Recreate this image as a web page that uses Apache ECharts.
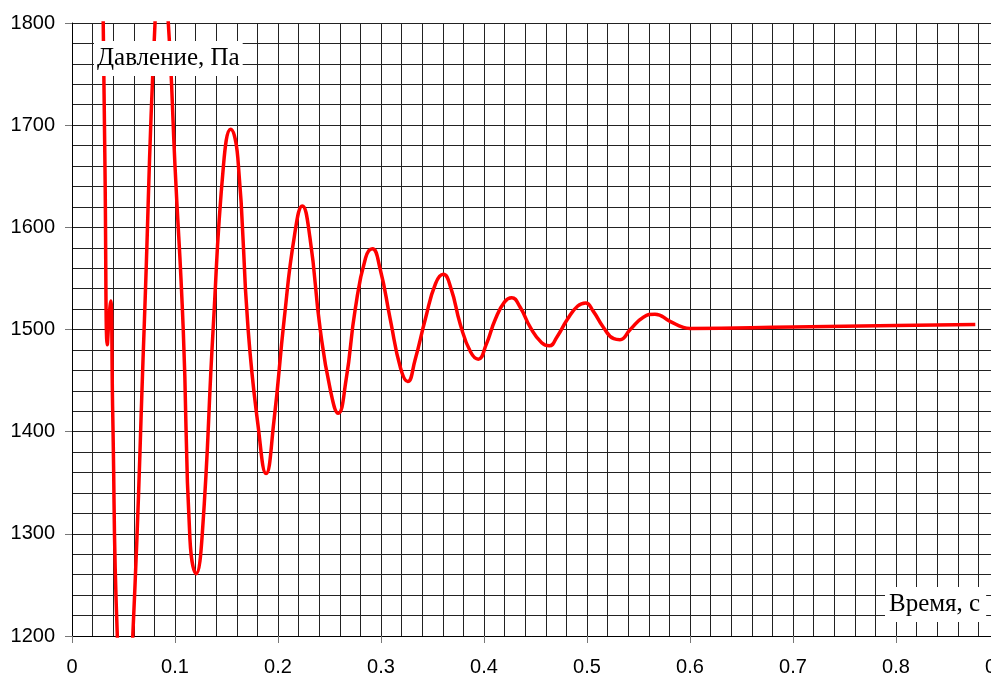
<!DOCTYPE html>
<html>
<head>
<meta charset="utf-8">
<script src="https://cdn.jsdelivr.net/npm/echarts@6/dist/echarts.min.js"></script>
<style>
  html, body { margin: 0; padding: 0; background: #fff; }
  #main { width: 991px; height: 675px; }
</style>
</head>
<body>
<div id="main"></div>
<script>
// время, с
var timeS = [
  0.0297, 0.0320, 0.0343, 0.0360, 0.0376, 0.0395, 0.0440, 0.0515, 0.0590, 0.0700,
  0.0806, 0.0870, 0.0935, 0.1000, 0.1080, 0.1145, 0.1205, 0.1265, 0.1370, 0.1470,
  0.1541, 0.1610, 0.1710, 0.1810, 0.1884, 0.1960, 0.2060, 0.2160, 0.2236, 0.2310,
  0.2410, 0.2510, 0.2585, 0.2660, 0.2750, 0.2850, 0.2916, 0.2990, 0.3090, 0.3190,
  0.3259, 0.3330, 0.3430, 0.3530, 0.3605, 0.3680, 0.3770, 0.3870, 0.3945, 0.4020,
  0.4110, 0.4200, 0.4269, 0.4350, 0.4450, 0.4560, 0.4634, 0.4710, 0.4810, 0.4910,
  0.4987, 0.5060, 0.5160, 0.5260, 0.5320, 0.5420, 0.5547, 0.5660, 0.5806, 0.5935,
  0.6000, 0.7000, 0.8000, 0.8770
];
// давление, Па
var pressurePa = [
  1850, 1660, 1485, 1512, 1528, 1420, 1200, 1095, 1200, 1500,
  1800, 1868, 1800, 1660, 1500, 1295, 1261, 1300, 1500, 1660,
  1696, 1668, 1500, 1403, 1359, 1410, 1510, 1592, 1621, 1590,
  1500, 1440, 1418, 1450, 1520, 1570, 1579, 1560, 1510, 1462,
  1449, 1470, 1510, 1545, 1554, 1540, 1505, 1478, 1471, 1485,
  1510, 1527, 1531, 1522, 1502, 1487, 1484, 1493, 1510, 1523,
  1526, 1518, 1502, 1491, 1490, 1500, 1512, 1515, 1508, 1502,
  1501, 1502.5, 1504, 1505
];

var xName = 'Время, с';
var yName = 'Давление, Па';

var seriesData = [];
for (var i = 0; i < timeS.length; i++) {
    seriesData.push([timeS[i], pressurePa[i]]);
}

var myChart = echarts.init(document.getElementById('main'), null, { renderer: 'canvas' });

var gridColor = '#222';
var labelFont = '"Liberation Sans", Arial, sans-serif';
var nameFont = '25px "Liberation Serif", "Times New Roman", serif';

var option = {
    animation: false,
    backgroundColor: '#fff',
    // график шире окна, правый край обрезан
    grid: { left: 72, top: 23, width: 1030, height: 613, containLabel: false, outerBoundsMode: 'none' },
    xAxis: {
        type: 'value',
        min: 0,
        max: 1,
        interval: 0.1,
        axisLine: { show: true, onZero: false, lineStyle: { color: '#000', width: 1 } },
        axisTick: { show: true, length: 7, lineStyle: { color: '#777' } },
        axisLabel: { color: '#000', fontSize: 20, fontFamily: labelFont, margin: 21, formatter: function (v) { return String(v); } },
        splitLine: { show: true, lineStyle: { color: gridColor, width: 1 } },
        minorTick: { show: false, splitNumber: 5 },
        minorSplitLine: { show: true, lineStyle: { color: gridColor, width: 1 } }
    },
    yAxis: {
        type: 'value',
        min: 1200,
        max: 1800,
        interval: 100,
        axisLine: { show: true, onZero: false, lineStyle: { color: '#000', width: 1 } },
        axisTick: { show: true, length: 7, lineStyle: { color: '#777' } },
        axisLabel: { color: '#000', fontSize: 20, fontFamily: labelFont, margin: 17, formatter: function (v) { return String(v); } },
        splitLine: { show: true, lineStyle: { color: gridColor, width: 1 } },
        minorTick: { show: false, splitNumber: 5 },
        minorSplitLine: { show: true, lineStyle: { color: gridColor, width: 1 } }
    },
    graphic: [
        {
            type: 'text', left: 94, top: 41, z: 100,
            style: { text: yName, font: nameFont, fill: '#000', backgroundColor: '#fff', padding: [5, 3, 5, 3] }
        },
        {
            type: 'text', left: 885, top: 587, z: 100,
            style: { text: xName, font: nameFont, fill: '#000', backgroundColor: '#fff', padding: [5, 6, 5, 4] }
        }
    ],
    series: [{
        type: 'line',
        data: seriesData,
        showSymbol: false,
        smooth: 0.5,
        clip: true,
        lineStyle: { color: '#ff0000', width: 3.5 },
        z: 10
    }]
};

myChart.setOption(option);
</script>
</body>
</html>
